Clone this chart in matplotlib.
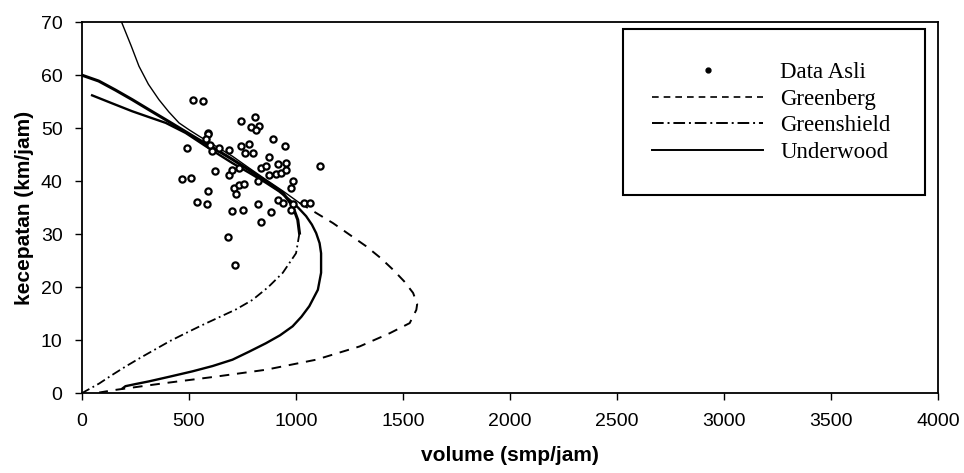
import matplotlib.pyplot as plt
from matplotlib.lines import Line2D
from matplotlib.patches import Rectangle

# observed data (volume smp/jam, speed km/jam)
data_q = [520, 563, 742, 808, 789, 828, 813, 894, 949, 1114, 489, 589, 638, 609,
          688, 742, 778, 797, 875, 914, 953, 836, 859, 875, 906, 930, 953, 984,
          977, 620, 688, 703, 734, 469, 511, 589, 711, 734, 758, 719, 820, 536,
          586, 700, 750, 820, 883, 836, 914, 938, 988, 1039, 1066, 977, 680, 716,
          590, 600, 760, 580]
data_v = [55.4, 55.1, 51.3, 52.2, 50.2, 50.4, 49.7, 48.0, 46.6, 42.9, 46.3, 49.1,
          46.3, 45.6, 45.8, 46.6, 47.1, 45.4, 44.6, 43.3, 43.4, 42.5, 42.9, 41.2,
          41.4, 41.5, 42.2, 40.0, 38.7, 42.0, 41.1, 42.2, 42.5, 40.5, 40.6, 38.2,
          38.7, 39.3, 39.5, 37.6, 40.0, 36.1, 35.7, 34.3, 34.6, 35.6, 34.2, 32.3,
          36.5, 35.9, 35.6, 35.9, 35.9, 34.6, 29.4, 24.2, 48.9, 46.8, 45.3, 47.9]

# Greenberg model
greenberg_upper_q = [185, 230, 266, 310, 359, 405, 453, 500, 547, 625, 703, 780, 859, 940, 1016]
greenberg_upper_v = [70.0, 65.5, 61.7, 58.3, 55.4, 53.1, 51.0, 49.7, 48.5, 46.6, 44.7, 42.5, 40.3, 38.1, 35.9]
greenberg_lower_q = [1016, 1094, 1172, 1250, 1328, 1395, 1453, 1505, 1547, 1566, 1562,
                     1531, 1438, 1297, 1094, 859, 625, 391, 156, 80]
greenberg_lower_v = [35.9, 34.0, 32.1, 29.9, 27.7, 25.5, 23.3, 21.1, 18.9, 16.8, 15.7,
                     13.2, 11.3, 8.8, 6.3, 4.4, 3.1, 1.9, 0.6, 0.1]

# Greenshield model
greenshield_upper_q = [0, 78, 156, 234, 312, 391, 469, 547, 625, 703, 781, 859, 938, 984, 1008, 1016]
greenshield_upper_v = [60.0, 58.9, 57.2, 55.4, 53.5, 51.6, 49.7, 47.8, 46.0, 44.1, 42.1, 40.0, 37.8, 35.3, 32.7, 30.2]
greenshield_lower_q = [1016, 1000, 938, 870, 797, 720, 640, 560, 484, 410, 340, 270, 203, 140, 80, 0]
greenshield_lower_v = [30.2, 26.4, 22.7, 20.0, 17.6, 15.8, 14.3, 12.8, 11.3, 9.8, 8.2, 6.6, 5.0, 3.4, 1.8, 0.0]

# Underwood model
underwood_q = [47, 140, 234, 312, 391, 484, 578, 640, 703, 780, 859, 920, 969, 1010, 1047,
               1074, 1094, 1110, 1117, 1117, 1102, 1062, 1025, 984, 925, 859, 780, 703,
               610, 516, 410, 312, 250, 203, 190]
underwood_v = [56.2, 54.7, 53.2, 52.1, 51.0, 49.1, 46.6, 45.0, 43.4, 41.6, 39.7, 38.1,
               36.5, 35.0, 33.4, 31.8, 30.2, 28.3, 26.4, 22.7, 19.5, 16.4, 14.4, 12.6,
               10.9, 9.4, 7.8, 6.3, 5.1, 4.1, 3.1, 2.2, 1.7, 1.3, 0.9]

x_ticks = list(range(0, 4001, 500))
y_ticks = list(range(0, 71, 10))

fig = plt.figure(figsize=(9.64, 4.73), dpi=100)
ax = fig.add_axes([0.0851, 0.169, 0.888, 0.784])

ax.plot(greenberg_upper_q, greenberg_upper_v, color='black', lw=1.0)
ax.plot(greenberg_lower_q, greenberg_lower_v, color='black', lw=1.4, ls=(0, (5, 4)))
ax.plot(greenshield_upper_q, greenshield_upper_v, color='black', lw=2.2)
ax.plot(greenshield_lower_q, greenshield_lower_v, color='black', lw=1.3, ls=(0, (5, 2, 1, 2)))
ax.plot(underwood_q, underwood_v, color='black', lw=1.7)
ax.scatter(data_q, data_v, s=20, facecolors='white', edgecolors='black', linewidths=1.6, zorder=3)

ax.set_xlim(0, 4000)
ax.set_ylim(0, 70)
ax.set_xticks(x_ticks)
ax.set_yticks(y_ticks)
ax.tick_params(direction='out', length=5, width=1, labelsize=14, pad=9)
for lab in ax.get_xticklabels() + ax.get_yticklabels():
    lab.set_family('Liberation Sans')
for sp in ax.spines.values():
    sp.set_linewidth(1.3)

ax.set_xlabel('volume (smp/jam)', fontsize=15, fontweight='bold', family='Liberation Sans', labelpad=12)
ax.set_ylabel('kecepatan (km/jam)', fontsize=15, fontweight='bold', family='Liberation Sans', labelpad=5)

# legend box
ax.add_patch(Rectangle((0.632, 0.534), 0.353, 0.447, transform=ax.transAxes,
                       fill=False, lw=1.5, ec='black', zorder=4))
handles = [
    Line2D([], [], color='black', marker='o', ms=3.5, ls='none'),
    Line2D([], [], color='black', lw=1.2, ls=(0, (4, 3))),
    Line2D([], [], color='black', lw=1.4, ls=(0, (6, 2, 1, 2))),
    Line2D([], [], color='black', lw=1.4),
]
labels = ['Data Asli', 'Greenberg', 'Greenshield', 'Underwood']
ax.legend(handles, labels, loc='upper left', bbox_to_anchor=(0.666, 0.893), frameon=False,
          prop={'family': 'Liberation Serif', 'size': 16.5}, handlelength=4.85,
          handletextpad=0.75, labelspacing=0.25, borderpad=0, borderaxespad=0)

fig.savefig('out.png', dpi=100)
